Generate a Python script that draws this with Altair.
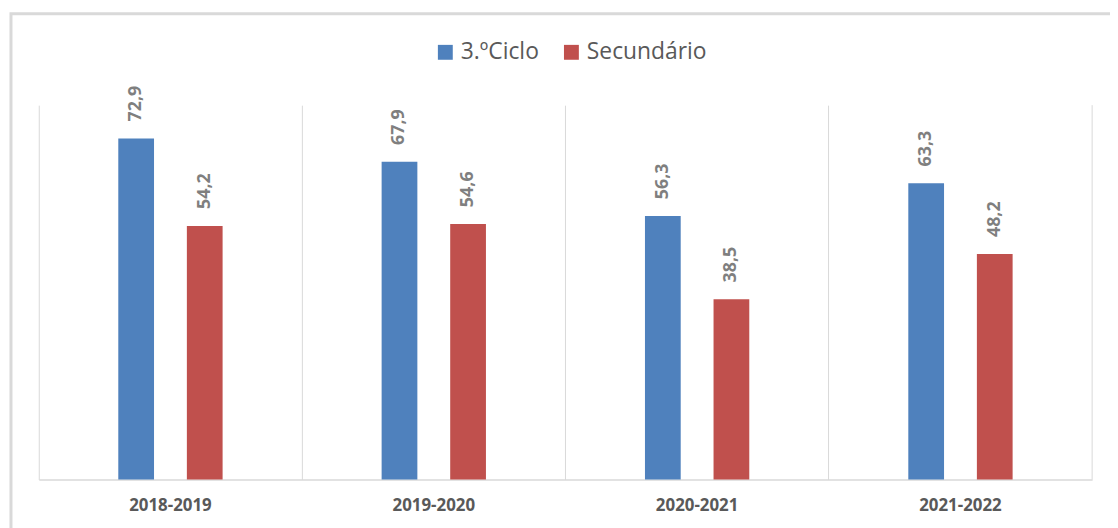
import altair as alt
import pandas as pd

years = ["2018-2019", "2019-2020", "2020-2021", "2021-2022"]
ciclo3 = [72.9, 67.9, 56.3, 63.3]
secundario = [54.2, 54.6, 38.5, 48.2]
series = ["3.ºCiclo", "Secundário"]
colors = ["#4F81BD", "#C0504D"]

rows = []
for i, y in enumerate(years):
    rows.append({"ano": y, "nivel": series[0], "valor": ciclo3[i]})
    rows.append({"ano": y, "nivel": series[1], "valor": secundario[i]})
df = pd.DataFrame(rows)

W, H = 1061, 377
GRID = "#d9d9d9"

axis_x = alt.Axis(title=None, bandPosition=0, grid=True, gridColor=GRID, gridWidth=1,
                  ticks=False, domainColor=GRID, domainWidth=1.5, labelAngle=0,
                  labelFont="Open Sans", labelFontSize=17, labelFontWeight="bold",
                  labelColor="#595959", labelPadding=18)
xscale = alt.Scale(paddingInner=0, paddingOuter=0)

xenc = alt.X("ano:N", sort=years, scale=xscale, axis=axis_x)
xoff = alt.XOffset("nivel:N", sort=series,
                   scale=alt.Scale(paddingInner=0.16, paddingOuter=1))
yenc = alt.Y("valor:Q", scale=alt.Scale(domain=[0, 80]), axis=None)

border = alt.Chart(pd.DataFrame({"k": [0]})).mark_rect(
    fillOpacity=0, stroke=GRID, strokeWidth=3
).encode(x=alt.value(-28), x2=alt.value(1300), y=alt.value(-92), y2=alt.value(800))

bars = alt.Chart(df).mark_bar(width=36).encode(
    x=xenc,
    xOffset=xoff,
    y=yenc,
    color=alt.Color("nivel:N", sort=series,
                    scale=alt.Scale(domain=series, range=colors),
                    legend=alt.Legend(title=None, orient="none", legendX=398, legendY=-65,
                                      direction="horizontal", symbolType="square",
                                      symbolSize=225, symbolStrokeWidth=0, padding=0,
                                      labelFont="Open Sans", labelFontSize=23,
                                      labelColor="#595959", columnPadding=21,
                                      labelOffset=4)),
)

labels = alt.Chart(df).transform_calculate(
    label="replace(format(datum.valor, '.1f'), '.', ',')"
).mark_text(angle=270, align="left", baseline="middle", dx=17,
            font="Open Sans", fontSize=18, fontWeight="bold", color="#7f7f7f").encode(
    x=xenc, xOffset=xoff, y=yenc, text="label:N"
)

last_rule = alt.Chart(pd.DataFrame({"ano": [years[-1]]})).mark_rule(
    color=GRID, strokeWidth=1
).encode(x=alt.X("ano:N", sort=years, scale=xscale, axis=axis_x, bandPosition=1))

chart = alt.layer(border, last_rule, bars, labels).properties(
    width=W, height=H,
    autosize=alt.AutoSizeParams(type="none"),
    padding={"left": 31, "top": 96, "right": 18, "bottom": 47},
).configure_view(strokeWidth=0)

chart.save("out.html", embed_options={"renderer": "svg", "actions": False})
